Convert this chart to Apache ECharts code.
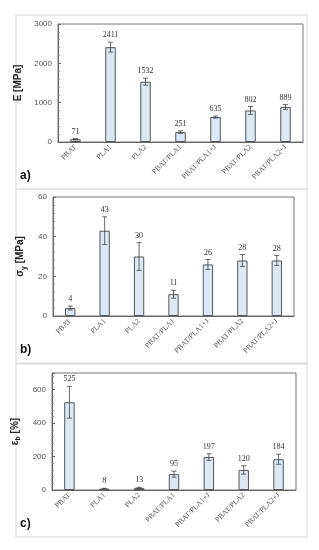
<!DOCTYPE html>
<html><head><meta charset="utf-8">
<script src="https://cdn.jsdelivr.net/npm/echarts@6/dist/echarts.min.js"></script>
<style>html,body{margin:0;padding:0;background:#fff}#c{width:319px;height:550px}</style>
</head><body><div id="c"></div>
<script>
const categories = ['PBAT','PLA1','PLA2','PBAT/PLA1','PBAT/PLA1+J','PBAT/PLA2','PBAT/PLA2+J'];
const modulusE = [71, 2411, 1532, 251, 635, 802, 889];
const modulusErr = [15, 125, 88, 30, 25, 100, 60];
const strengthY = [4, 43, 30, 11, 26, 28, 28];
const strengthErr = [1, 7, 7, 2, 2.5, 3, 2.5];
const elongB = [525, 8, 13, 95, 197, 120, 184];
const elongErr = [95, 2, 3, 18, 20, 25, 30];
const ticksE = [0, 3000, 1000];
const ticksS = [0, 60, 20];
const ticksEb = [0, 700, 200];

const chart = echarts.init(document.getElementById('c'), null, {renderer:'canvas'});
const grids = [
  {left:58, right:16, top:24, height:118},
  {left:53, right:25, top:197, height:119},
  {left:52, right:23, top:373, height:117}
];
const names = [
  {text:'E [MPa]', rich:null},
  {text:'{a|σ}{s|y}{a| [MPa]}'},
  {text:'{a|ε}{s|b}{a| [%]}'}
];
const values = [modulusE, strengthY, elongB];
const errs = [modulusErr, strengthErr, elongErr];
const ticks = [ticksE, ticksS, ticksEb];
const nameGaps = [24, 24, 26];

const xAxes = [], yAxes = [], series = [];
for (let i = 0; i < 3; i++) {
  xAxes.push({
    type:'category', gridIndex:i, data:categories,
    axisLine:{lineStyle:{color:'#666', width:1}},
    axisTick:{show:false},
    axisLabel:{rotate:45, fontSize:7.5, color:'#555', fontFamily:'Liberation Serif', margin:4, interval:0}
  });
  yAxes.push({
    type:'value', gridIndex:i, min:ticks[i][0], max:ticks[i][1], interval:ticks[i][2],
    name:names[i].text, nameLocation:'middle', nameGap:nameGaps[i], nameRotate:90,
    nameTextStyle:{fontSize:10, fontWeight:'bold', color:'#222', fontFamily:'Liberation Sans',
      rich:{a:{fontSize:10, fontWeight:'bold', color:'#222', fontFamily:'Liberation Sans'},
            s:{fontSize:7, fontWeight:'bold', color:'#222', fontFamily:'Liberation Sans', verticalAlign:'bottom', padding:[6,0,0,0]}}},
    axisLine:{show:true, lineStyle:{color:'#666'}},
    axisTick:{show:true, inside:true, length:3, lineStyle:{color:'#666'}},
    minorTick:{show:true, splitNumber:5, length:2, lineStyle:{color:'#888'}},
    splitLine:{show:false},
    axisLabel:{fontSize:8, color:'#555', fontFamily:'Liberation Sans', margin:6, showMaxLabel: i!==2,
      formatter: function(v){ return String(v); }}
  });
  series.push({
    type:'bar', xAxisIndex:i, yAxisIndex:i, data:values[i], barWidth:'30%',
    itemStyle:{color:'#dbe8f6', borderColor:'#555', borderWidth:1}, silent:true
  });
  const vals = values[i], er = errs[i];
  series.push({
    type:'custom', xAxisIndex:i, yAxisIndex:i,
    data: vals.map((v,k)=>[k, v, er[k]]),
    renderItem: function(params, api){
      const x = api.value(0), v = api.value(1), e = api.value(2);
      const top = api.coord([x, v+e]), bot = api.coord([x, Math.max(v-e, 0)]);
      const w = 2.5;
      const st = {stroke:'#444', lineWidth:0.8};
      return {type:'group', children:[
        {type:'line', shape:{x1:top[0], y1:top[1], x2:bot[0], y2:bot[1]}, style:st},
        {type:'line', shape:{x1:top[0]-w, y1:top[1], x2:top[0]+w, y2:top[1]}, style:st},
        {type:'line', shape:{x1:bot[0]-w, y1:bot[1], x2:bot[0]+w, y2:bot[1]}, style:st},
        {type:'text', x:top[0], y:top[1]-3, style:{text:String(v), fontSize:8, fontFamily:'Liberation Serif', fill:'#333', align:'center', verticalAlign:'bottom'}}
      ]};
    },
    z:5, silent:true
  });
}

const boxes = [[16,15,291,174],[16,189,291,174],[16,364,291,173]];
const letters = [['a)',20,170],['b)',20,344],['c)',20,518]];
const graphic = [];
boxes.forEach(b=>graphic.push({type:'rect', shape:{x:b[0], y:b[1], width:b[2], height:b[3]}, style:{fill:'none', stroke:'#e4e4e4', lineWidth:1.5}, silent:true}));
letters.forEach(l=>graphic.push({type:'text', x:l[1], y:l[2], style:{text:l[0], fontSize:12, fontWeight:'bold', fill:'#111', fontFamily:'Liberation Sans'}}));

chart.setOption({
  animation:false,
  grid: grids.map(g=>Object.assign({show:true, borderColor:'#777', borderWidth:1, backgroundColor:'transparent'}, g)),
  xAxis:xAxes, yAxis:yAxes, series:series, graphic:graphic
});
</script></body></html>
